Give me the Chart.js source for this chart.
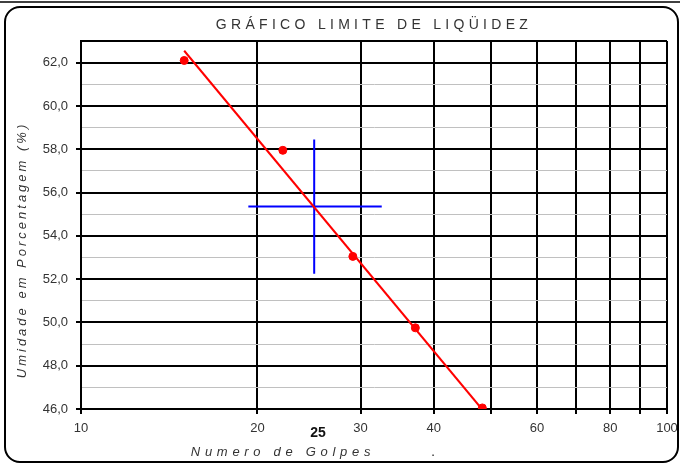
<!DOCTYPE html>
<html>
<head>
<meta charset="utf-8">
<script src="https://cdn.jsdelivr.net/npm/chart.js@4.4.1/dist/chart.umd.min.js"></script>
<style>
  html, body { margin: 0; padding: 0; background: #fff; }
  #wrap { width: 680px; height: 463px; position: relative; }
</style>
</head>
<body>
<div id="wrap"><canvas id="llChart"></canvas></div>
<script>
// --- data ---
const blows = [15.0, 22.1, 29.1, 37.2, 48.4];
const moisture = [62.1, 57.95, 53.05, 49.75, 46.05];

// fitted line ends
const trendBlows = [15.0, 48.3];
const trendMoisture = [62.55, 46.0];

// cross at 25 blows
const crossHBlows = [19.3, 32.6];
const crossHMoisture = [55.35, 55.35];
const crossVBlows = [25, 25];
const crossVMoisture = [58.45, 52.25];

const xTickValues = [10, 20, 30, 40, 50, 60, 70, 80, 90, 100];
const xTickLabels = ['10', '20', '30', '40', '', '60', '', '80', '', '100'];
const yMin = 46;
const yMax = 63;

const FONT = '"Liberation Sans", Arial, sans-serif';
const TEXT = '#333333';

function pts(xs, ys) {
    return xs.map((x, i) => ({ x: x, y: ys[i] }));
}

// frame + titles drawn on top of the canvas
const decor = {
    id: 'decor',
    afterDraw(chart) {
        const ctx = chart.ctx;
        ctx.save();
        // outer frame
        ctx.strokeStyle = '#000';
        ctx.lineWidth = 1.5;
        ctx.beginPath();
        ctx.moveTo(0, 2);
        ctx.lineTo(680, 2);
        ctx.stroke();
        ctx.lineWidth = 2;
        ctx.beginPath();
        ctx.roundRect(5, 7, 673, 455, 15);
        ctx.stroke();

        ctx.fillStyle = TEXT;
        ctx.textBaseline = 'middle';
        ctx.textAlign = 'center';

        // main title
        ctx.font = '14px ' + FONT;
        ctx.letterSpacing = '4.3px';
        ctx.fillText('GRÁFICO LIMITE DE LIQÜIDEZ', 374, 25);

        // x title
        ctx.font = 'italic 13px ' + FONT;
        ctx.letterSpacing = '4.7px';
        ctx.fillText('Numero de Golpes', 283, 452);

        // y title
        ctx.save();
        ctx.translate(22, 250);
        ctx.rotate(-Math.PI / 2);
        ctx.letterSpacing = '3px';
        ctx.fillText('Umidade em Porcentagem (%)', 0, 0);
        ctx.restore();

        ctx.letterSpacing = '0px';
        ctx.font = 'bold 14px ' + FONT;
        ctx.fillStyle = '#111';
        ctx.fillText('25', 318, 433);
        ctx.font = '13px ' + FONT;
        ctx.fillText('.', 433, 452);
        ctx.restore();
    }
};

const ctx = document.getElementById('llChart').getContext('2d');
new Chart(ctx, {
    type: 'scatter',
    data: {
        datasets: [{
            label: 'Reta',
            data: pts(trendBlows, trendMoisture),
            showLine: true,
            borderColor: '#ff0000',
            borderWidth: 2,
            pointRadius: 0
        }, {
            label: 'Ensaios',
            data: pts(blows, moisture),
            backgroundColor: '#ff0000',
            borderColor: '#ff0000',
            pointRadius: 4
        }, {
            label: 'h',
            data: pts(crossHBlows, crossHMoisture),
            showLine: true,
            borderColor: '#0000ff',
            borderWidth: 2,
            pointRadius: 0
        }, {
            label: 'v',
            data: pts(crossVBlows, crossVMoisture),
            showLine: true,
            borderColor: '#0000ff',
            borderWidth: 2,
            pointRadius: 0
        }]
    },
    options: {
        responsive: true,
        maintainAspectRatio: false,
        animation: false,
        layout: { padding: { top: 41, right: 13, left: 0, bottom: 0 } },
        scales: {
            x: {
                type: 'logarithmic',
                min: 10,
                max: 100,
                afterBuildTicks: function(scale) {
                    scale.ticks = xTickValues.map(v => ({ value: v }));
                },
                afterFit: function(scale) {
                    scale.height = 54;
                    scale.paddingLeft = 0;
                    scale.paddingRight = 0;
                },
                ticks: {
                    autoSkip: false,
                    maxRotation: 0,
                    padding: 7,
                    color: TEXT,
                    font: { family: FONT, size: 13 },
                    callback: function(value) {
                        const i = xTickValues.indexOf(value);
                        return i >= 0 ? xTickLabels[i] : '';
                    }
                },
                grid: {
                    color: '#000',
                    lineWidth: 2,
                    tickColor: '#000',
                    tickLength: 5,
                    tickWidth: 2
                },
                border: { display: true, color: '#000', width: 2 }
            },
            y: {
                min: yMin,
                max: yMax,
                afterFit: function(scale) {
                    scale.width = 81;
                },
                ticks: {
                    stepSize: 1,
                    padding: 8,
                    color: TEXT,
                    font: { family: FONT, size: 13 },
                    callback: function(value) {
                        if (value % 2 !== 0) return '';
                        return value.toFixed(1).replace('.', ',');
                    }
                },
                grid: {
                    color: function(c) {
                        const v = c.tick ? c.tick.value : 0;
                        return (v % 2 === 0 || v === yMax) ? '#000' : '#c0c0c0';
                    },
                    lineWidth: function(c) {
                        const v = c.tick ? c.tick.value : 0;
                        return (v % 2 === 0 || v === yMax) ? 2 : 1;
                    },
                    tickColor: function(c) {
                        const v = c.tick ? c.tick.value : 0;
                        return v % 2 === 0 ? '#000' : 'rgba(0,0,0,0)';
                    },
                    tickLength: 5,
                    tickWidth: 2
                },
                border: { display: true, color: '#000', width: 2 }
            }
        },
        plugins: {
            legend: { display: false },
            title: { display: false },
            tooltip: { enabled: false }
        }
    },
    plugins: [decor]
});
</script>
</body>
</html>
